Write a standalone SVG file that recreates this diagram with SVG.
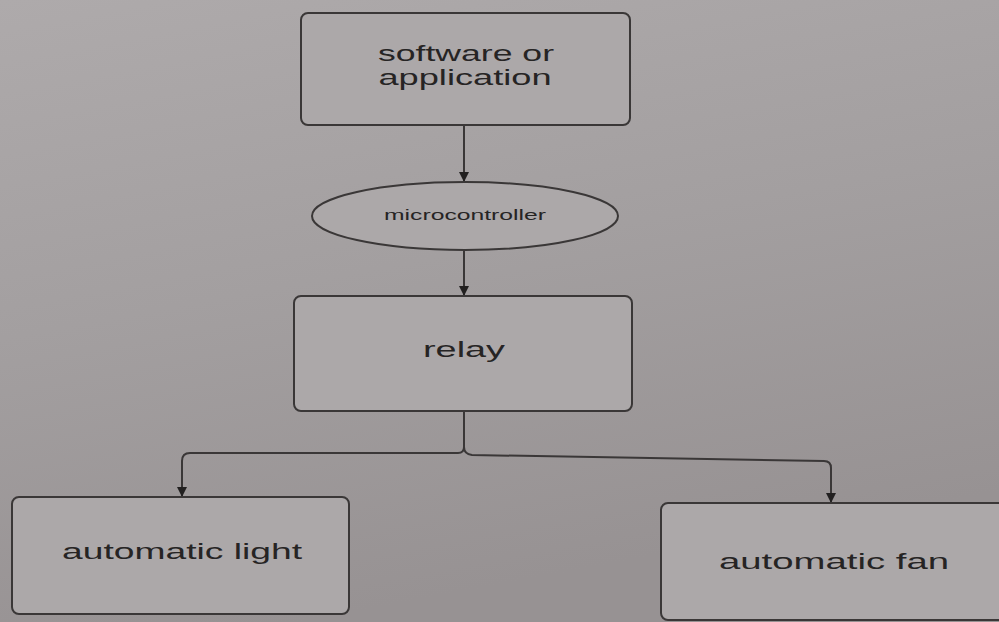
<svg xmlns="http://www.w3.org/2000/svg" width="999" height="622" viewBox="0 0 999 622">
<style>
.box{fill:#aca8a9;stroke:#3a3737;stroke-width:2}
.t{font-family:"Liberation Sans",Arial,sans-serif;fill:#262424;text-anchor:middle}
.big{font-size:22px}
.small{font-size:14px}
.c{fill:none;stroke:#3a3737;stroke-width:2}
</style>
<defs>
<linearGradient id="bg" x1="0" y1="0" x2="0.3" y2="1">
<stop offset="0" stop-color="#aeaaab"/>
<stop offset="0.5" stop-color="#a39fa0"/>
<stop offset="1" stop-color="#979293"/>
</linearGradient>
<marker id="ah" markerWidth="10" markerHeight="10" refX="9" refY="5" orient="auto" markerUnits="userSpaceOnUse">
<path d="M0,0 L10,5 L0,10 Z" fill="#222020"/>
</marker>
</defs>
<rect width="999" height="622" fill="url(#bg)"/>
<g id="connectors">
<line class="c" x1="464" y1="125" x2="464" y2="181" marker-end="url(#ah)"/>
<line class="c" x1="464" y1="250" x2="464" y2="295" marker-end="url(#ah)"/>
<path class="c" d="M464,411 V447 Q464,453 458,453 H190 Q182,453 182,461 V496" marker-end="url(#ah)"/>
<path class="c" d="M464,411 V447 Q464,454 472,455 L824,461 Q831,461 831,468 V502" marker-end="url(#ah)"/>
</g>
<g id="software">
<rect class="box" x="301" y="13" width="329" height="112" rx="7"/>
<text class="t big" x="466" y="61" textLength="176" lengthAdjust="spacingAndGlyphs">software or</text>
<text class="t big" x="465" y="85" textLength="173" lengthAdjust="spacingAndGlyphs">application</text>
</g>
<g id="microcontroller">
<ellipse class="box" cx="465" cy="216" rx="153" ry="34"/>
<text class="t small" x="465" y="220" textLength="162" lengthAdjust="spacingAndGlyphs">microcontroller</text>
</g>
<g id="relay">
<rect class="box" x="294" y="296" width="338" height="115" rx="7"/>
<text class="t big" x="464" y="357" textLength="82" lengthAdjust="spacingAndGlyphs">relay</text>
</g>
<g id="light">
<rect class="box" x="12" y="497" width="337" height="117" rx="7"/>
<text class="t big" x="182" y="559" textLength="240" lengthAdjust="spacingAndGlyphs">automatic light</text>
</g>
<g id="fan">
<rect class="box" x="661" y="503" width="345" height="117" rx="7"/>
<text class="t big" x="834" y="569" textLength="230" lengthAdjust="spacingAndGlyphs">automatic fan</text>
</g>
</svg>
